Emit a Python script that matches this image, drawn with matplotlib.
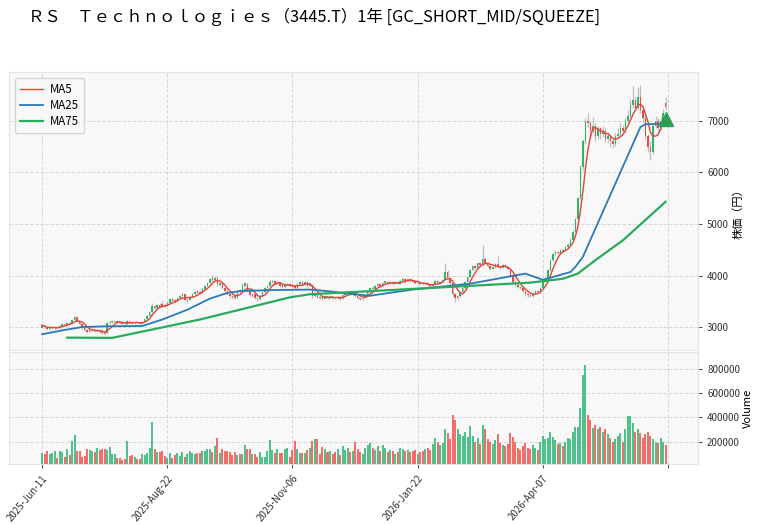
import numpy as np
import pandas as pd
import matplotlib
matplotlib.use('Agg')
import matplotlib.pyplot as plt

plt.rcParams['font.family'] = ['Noto Sans CJK JP', 'DejaVu Sans']

title = 'ＲＳ　Ｔｅｃｈｎｏｌｏｇｉｅｓ（3445.T）1年 [GC_SHORT_MID/SQUEEZE]'
tick_pos = [0, 50, 100, 150, 200, 250]
tick_labels = ['2025-Jun-11', '2025-Aug-22', '2025-Nov-06', '2026-Jan-22', '2026-Apr-07', '']

# daily OHLC (yen)
opens = [
    2990, 3040, 3000, 2960, 2990, 2990, 3010, 2980, 3030, 3060,
    3040, 3090, 3070, 3140, 3190, 3120, 3060, 2990, 2950, 2910,
    2940, 2960, 2920, 2950, 2910, 2900, 2880, 3080, 3100, 3105,
    3120, 3095, 3085, 3075, 3060, 3120, 3095, 3080, 3100, 3085,
    3070, 3110, 3160, 3210, 3290, 3420, 3380, 3440, 3460, 3440,
    3420, 3480, 3540, 3520, 3500, 3570, 3600, 3640, 3500, 3530,
    3580, 3640, 3700, 3690, 3670, 3740, 3800, 3860, 3960, 3920,
    3960, 3820, 3850, 3760, 3700, 3640, 3600, 3600, 3570, 3720,
    3690, 3800, 3840, 3720, 3610, 3650, 3570, 3540, 3600, 3680,
    3760, 3800, 3870, 3900, 3840, 3870, 3810, 3780, 3810, 3840,
    3820, 3790, 3760, 3840, 3870, 3830, 3870, 3800, 3820, 3600,
    3650, 3590, 3580, 3550, 3600, 3570, 3600, 3580, 3560, 3590,
    3550, 3620, 3660, 3690, 3650, 3680, 3600, 3570, 3540, 3570,
    3620, 3680, 3770, 3740, 3790, 3830, 3800, 3860, 3880, 3850,
    3880, 3840, 3870, 3840, 3900, 3930, 3900, 3940, 3900, 3890,
    3850, 3870, 3850, 3830, 3860, 3810, 3790, 3830, 3900, 3850,
    3880, 3920, 4080, 3960, 3850, 3640, 3560, 3600, 3680, 3760,
    3880, 3980, 4100, 4180, 4150, 4240, 4200, 4330, 4250, 4180,
    4130, 4160, 4220, 4180, 4150, 4200, 4170, 4120, 4000, 3880,
    3820, 3780, 3760, 3700, 3640, 3630, 3600, 3650, 3700, 3680,
    3760, 3880, 3950, 4100, 4300, 4420, 4460, 4430, 4500, 4480,
    4560, 4600, 4700, 4850, 5100, 5500, 6100, 6600, 7000, 6950,
    6800, 6900, 6700, 6850, 6750, 6800, 6650, 6700, 6600, 6550,
    6700, 6750, 6850, 6800, 7000, 7100, 7300, 7400, 7250, 7450,
    7200, 7050, 6700, 6500, 6400, 6900, 7000, 6850, 7000, 7350,
]
highs = [
    3070, 3050, 3010, 3000, 3020, 3030, 3020, 3040, 3080, 3070,
    3110, 3100, 3160, 3220, 3200, 3130, 3070, 3000, 2960, 2960,
    2980, 2970, 2960, 2960, 2920, 2910, 3100, 3130, 3140, 3130,
    3130, 3110, 3100, 3090, 3150, 3130, 3110, 3110, 3110, 3100,
    3120, 3170, 3230, 3300, 3480, 3440, 3460, 3470, 3500, 3460,
    3500, 3560, 3560, 3550, 3590, 3620, 3660, 3650, 3550, 3600,
    3660, 3700, 3720, 3720, 3760, 3820, 3880, 3960, 4010, 4000,
    3970, 3880, 3860, 3780, 3720, 3660, 3620, 3620, 3720, 3740,
    3850, 3870, 3850, 3730, 3670, 3660, 3580, 3620, 3700, 3780,
    3820, 3910, 3920, 3910, 3890, 3880, 3820, 3840, 3860, 3850,
    3830, 3810, 3860, 3890, 3880, 3900, 3880, 3850, 3830, 3680,
    3660, 3610, 3600, 3620, 3610, 3620, 3610, 3590, 3600, 3600,
    3640, 3680, 3710, 3700, 3700, 3690, 3610, 3580, 3590, 3640,
    3700, 3780, 3790, 3810, 3850, 3840, 3880, 3900, 3890, 3900,
    3890, 3880, 3880, 3920, 3950, 3950, 3960, 3950, 3920, 3900,
    3890, 3880, 3860, 3880, 3870, 3820, 3850, 3920, 3910, 3900,
    3940, 4240, 4100, 3980, 3860, 3660, 3630, 3700, 3780, 3900,
    4000, 4120, 4200, 4200, 4260, 4250, 4590, 4350, 4260, 4190,
    4180, 4250, 4390, 4190, 4220, 4210, 4180, 4130, 4010, 3900,
    3830, 3800, 3770, 3710, 3660, 3650, 3670, 3720, 3720, 3780,
    3900, 3970, 4120, 4320, 4440, 4490, 4480, 4520, 4520, 4580,
    4630, 4720, 4880, 5120, 5530, 6150, 6650, 7060, 7140, 7000,
    7080, 6950, 6900, 6880, 6900, 6850, 6780, 6750, 6660, 6760,
    6850, 6950, 6920, 7060, 7200, 7420, 7680, 7450, 7650, 7690,
    7300, 7100, 6750, 6600, 6950, 7100, 7050, 7080, 7220, 7450,
]
lows = [
    2980, 2980, 2940, 2950, 2970, 2970, 2970, 2970, 3020, 3020,
    3030, 3050, 3060, 3120, 3100, 3040, 2970, 2930, 2880, 2900,
    2920, 2900, 2900, 2890, 2870, 2850, 2870, 3060, 3090, 3090,
    3070, 3060, 3060, 3050, 3050, 3080, 3070, 3070, 3070, 3060,
    3060, 3100, 3150, 3200, 3280, 3350, 3370, 3380, 3380, 3400,
    3410, 3470, 3490, 3480, 3490, 3560, 3590, 3510, 3480, 3520,
    3570, 3620, 3650, 3640, 3660, 3730, 3790, 3850, 3900, 3900,
    3800, 3800, 3740, 3680, 3620, 3560, 3540, 3550, 3560, 3670,
    3680, 3780, 3700, 3600, 3590, 3540, 3510, 3530, 3590, 3670,
    3750, 3790, 3850, 3820, 3830, 3780, 3760, 3770, 3790, 3790,
    3760, 3740, 3750, 3830, 3820, 3820, 3780, 3790, 3570, 3580,
    3560, 3550, 3530, 3540, 3550, 3560, 3550, 3540, 3550, 3530,
    3540, 3610, 3650, 3630, 3640, 3580, 3550, 3520, 3530, 3560,
    3610, 3670, 3720, 3730, 3780, 3780, 3790, 3850, 3830, 3840,
    3820, 3830, 3830, 3830, 3890, 3880, 3890, 3880, 3860, 3830,
    3840, 3820, 3810, 3820, 3790, 3770, 3780, 3820, 3830, 3840,
    3870, 3910, 3950, 3840, 3600, 3490, 3530, 3590, 3670, 3750,
    3870, 3970, 4090, 4120, 4140, 4180, 4190, 4230, 4160, 4100,
    4120, 4150, 4160, 4130, 4140, 4150, 4100, 3980, 3860, 3800,
    3760, 3740, 3680, 3610, 3590, 3580, 3590, 3640, 3660, 3670,
    3750, 3870, 3940, 4090, 4280, 4400, 4410, 4420, 4460, 4470,
    4540, 4590, 4690, 4840, 5080, 5480, 6050, 6550, 6880, 6700,
    6760, 6600, 6650, 6650, 6680, 6580, 6580, 6500, 6480, 6520,
    6650, 6700, 6740, 6760, 6950, 7050, 7250, 7200, 7200, 7150,
    6950, 6650, 6400, 6230, 6350, 6850, 6800, 6820, 6950, 7200,
]
closes = [
    3040, 3000, 2960, 2990, 3000, 3010, 2980, 3030, 3060, 3040,
    3090, 3070, 3140, 3190, 3120, 3060, 2990, 2950, 2910, 2940,
    2960, 2920, 2950, 2910, 2890, 2870, 3080, 3110, 3120, 3120,
    3090, 3080, 3070, 3060, 3130, 3090, 3080, 3100, 3080, 3070,
    3110, 3160, 3210, 3290, 3420, 3380, 3440, 3400, 3400, 3420,
    3480, 3540, 3510, 3500, 3570, 3600, 3640, 3530, 3530, 3580,
    3640, 3690, 3670, 3670, 3740, 3800, 3860, 3930, 3920, 3960,
    3830, 3850, 3760, 3700, 3640, 3600, 3580, 3570, 3700, 3690,
    3820, 3850, 3720, 3620, 3650, 3560, 3540, 3600, 3680, 3760,
    3800, 3880, 3900, 3840, 3870, 3800, 3780, 3820, 3840, 3810,
    3780, 3760, 3840, 3870, 3830, 3880, 3800, 3830, 3600, 3650,
    3580, 3570, 3550, 3600, 3570, 3600, 3570, 3560, 3590, 3550,
    3620, 3660, 3690, 3650, 3680, 3600, 3570, 3540, 3570, 3620,
    3680, 3760, 3740, 3790, 3830, 3800, 3860, 3890, 3850, 3880,
    3840, 3870, 3840, 3900, 3930, 3900, 3940, 3900, 3880, 3850,
    3870, 3840, 3830, 3860, 3810, 3790, 3830, 3900, 3850, 3880,
    3920, 4080, 3960, 3850, 3640, 3560, 3600, 3680, 3760, 3880,
    3980, 4100, 4180, 4150, 4240, 4200, 4330, 4250, 4180, 4130,
    4160, 4220, 4180, 4150, 4200, 4170, 4120, 4000, 3880, 3820,
    3780, 3760, 3700, 3640, 3620, 3600, 3650, 3700, 3680, 3760,
    3880, 3950, 4100, 4300, 4420, 4460, 4430, 4500, 4480, 4560,
    4600, 4700, 4850, 5100, 5500, 6100, 6600, 7000, 6950, 6800,
    6900, 6700, 6850, 6750, 6800, 6650, 6700, 6600, 6550, 6700,
    6750, 6850, 6800, 7000, 7100, 7300, 7400, 7250, 7450, 7200,
    7050, 6700, 6500, 6400, 6900, 7000, 6850, 7000, 7150, 7260,
]
# volume in thousands of shares
volume_k = [
    108, 97, 119, 97, 108, 119, 64, 125, 117, 75,
    142, 89, 208, 258, 125, 125, 75, 83, 139, 131,
    125, 111, 147, 131, 139, 139, 131, 158, 97, 97,
    64, 64, 47, 56, 208, 83, 89, 69, 56, 58,
    97, 86, 108, 147, 358, 142, 111, 111, 125, 83,
    64, 108, 64, 89, 103, 83, 114, 69, 97, 119,
    108, 97, 103, 108, 119, 125, 139, 142, 111, 164,
    231, 103, 142, 125, 119, 111, 89, 117, 89, 97,
    97, 175, 139, 139, 97, 97, 69, 111, 69, 69,
    125, 214, 131, 108, 139, 108, 108, 139, 147, 69,
    131, 208, 139, 103, 103, 108, 131, 147, 208, 225,
    225, 97, 158, 139, 111, 120, 95, 110, 140, 90,
    160, 130, 150, 110, 120, 200, 140, 110, 100, 150,
    170, 190, 150, 130, 160, 120, 170, 150, 110, 130,
    120, 100, 110, 150, 140, 120, 130, 110, 120, 130,
    100, 110, 120, 140, 150, 130, 180, 230, 200, 170,
    190, 300, 270, 220, 420, 380, 300, 260, 250, 280,
    240, 330, 250, 200, 230, 180, 340, 300, 220, 200,
    180, 210, 260, 190, 170, 160, 180, 270, 240, 200,
    150, 130, 160, 190, 150, 140, 170, 150, 130, 200,
    250, 220, 230, 280, 240, 210, 180, 190, 160, 200,
    230, 220, 280, 320, 320, 480, 750, 830, 420, 380,
    310, 340, 300, 320, 280, 300, 260, 230, 200, 220,
    250, 270, 200, 300, 410, 410, 350, 280, 300, 270,
    230, 260, 280, 250, 220, 200, 190, 230, 200, 170,
]

# moving averages as shown (bar index, value)
ma25_idx = [0, 8, 16, 26, 40, 48, 58, 67, 74, 79, 91, 107, 114, 120, 131, 135,
            148, 171, 193, 200, 203, 211, 213, 216, 239, 241, 249]
ma25_val = [2865, 2940, 3005, 3020, 3025, 3150, 3340, 3555, 3665, 3700, 3720, 3730, 3700, 3665, 3610, 3640,
            3730, 3845, 4040, 3920, 3960, 4070, 4170, 4365, 6880, 6930, 6950]
ma75_idx = [10, 28, 63, 99, 107, 135, 195, 208, 214, 221, 232, 249]
ma75_val = [2800, 2795, 3150, 3580, 3640, 3710, 3865, 3940, 4040, 4300, 4685, 5430]

signal_idx = [249]
signal_val = [7040]

df = pd.DataFrame({'Open': opens, 'High': highs, 'Low': lows, 'Close': closes,
                   'Volume': np.array(volume_k) * 1000})
x = np.arange(len(df))
ma5 = df['Close'].rolling(5, min_periods=1).mean()
up = df['Close'] >= df['Open']

UP_C = '#2db56a'
DN_C = '#ec4c47'
face = '#f8f8f8'
grid_kw = dict(color='#d8d8d8', linestyle='--', linewidth=0.7)

fig = plt.figure(figsize=(7.64, 5.25), dpi=100)
ax1 = fig.add_axes([0.0118, 0.3333, 0.9019, 0.5295])
ax2 = fig.add_axes([0.0118, 0.1162, 0.9019, 0.2133], sharex=ax1)

for ax in (ax1, ax2):
    ax.set_facecolor(face)
    for s in ax.spines.values():
        s.set_color('#e4e4e4')
    ax.yaxis.tick_right()
    ax.yaxis.set_label_position('right')
    ax.set_axisbelow(True)
    ax.grid(True, **grid_kw)
    ax.tick_params(axis='both', labelsize=7, length=3, color='#555555', labelcolor='#333333')

# candles
ax1.vlines(x, df['Low'], df['High'], color='#bdbdbd', linewidth=0.9, zorder=2)
body_lo = np.minimum(df['Open'], df['Close'])
body_h = (df['Close'] - df['Open']).abs().clip(lower=8)
ax1.bar(x, body_h, bottom=body_lo, width=0.6,
        color=np.where(up, UP_C, DN_C), linewidth=0, zorder=3)

ax1.plot(x, ma5, color='#e0453a', linewidth=1.0, label='MA5', zorder=4)
ax1.plot(ma25_idx, ma25_val, color='#2a7ab8', linewidth=1.3, label='MA25', zorder=4)
ax1.plot(ma75_idx, ma75_val, color='#29ab5f', linewidth=1.6, label='MA75', zorder=4)
ax1.plot(signal_idx, signal_val, marker='^', linestyle='none', color='#2e9e57',
         markersize=10, zorder=5)

ax1.set_ylim(2560, 7943)
ax1.set_yticks([3000, 4000, 5000, 6000, 7000])
ax1.set_ylabel('株価（円）', fontsize=8, labelpad=3)
ax1.tick_params(axis='x', labelbottom=False, length=0)
ax1.legend(loc='upper left', fontsize=8.3, frameon=True, edgecolor='#cccccc',
           facecolor='#f8f8f8', handlelength=2.0, borderpad=0.45, labelspacing=0.25,
           handletextpad=0.6)

# volume
ax2.bar(x, df['Volume'], width=0.8, color=np.where(up, '#3dbd80', '#f25f5a'),
        alpha=0.9, linewidth=0, zorder=3)
ax2.set_ylim(15000, 940000)
ax2.set_yticks([200000, 400000, 600000, 800000])
ax2.set_ylabel('Volume', fontsize=8, labelpad=2)

ax2.set_xlim(-13.2, 262)
ax2.set_xticks(tick_pos)
ax2.set_xticklabels(tick_labels, rotation=50, ha='right', rotation_mode='anchor', fontsize=7)

fig.text(0.037, 0.958, title, fontsize=11.8, ha='left', va='baseline')

fig.savefig('out.png', dpi=100)
